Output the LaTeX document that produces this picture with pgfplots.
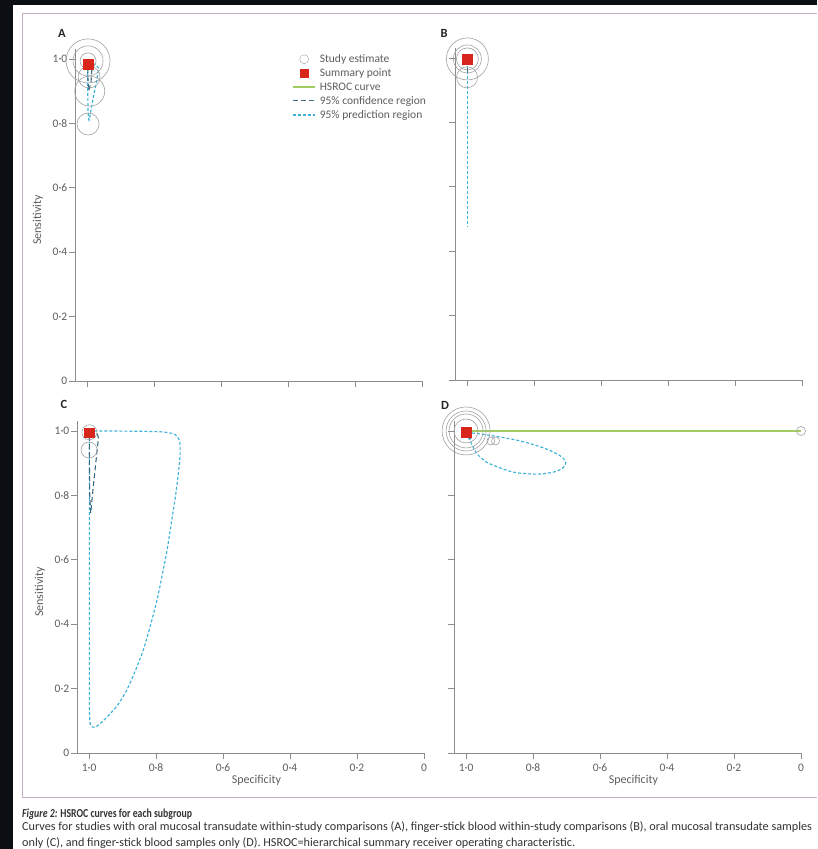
\documentclass[border=0pt]{standalone}
\usepackage{fontspec}
\setmainfont{Carlito}
\newfontfamily\capbold[FakeStretch=0.8]{Carlito}
\usepackage{pgfplots}
\pgfplotsset{compat=1.18}
\definecolor{axisgray}{HTML}{8C8C8C}
\definecolor{txtgray}{HTML}{5E5E5E}
\definecolor{circgray}{HTML}{A2A2A2}
\definecolor{sumred}{HTML}{D8261C}
\definecolor{predblue}{HTML}{3FB2DA}
\definecolor{confblue}{HTML}{3A6A82}
\definecolor{hsgreen}{HTML}{A2CC62}
\definecolor{framecol}{HTML}{C9AFC4}
\definecolor{bgc}{HTML}{0B0E13}
\pgfplotsset{
  hs/.style={
    scale only axis, width=347pt, height=331.7pt,
    x dir=reverse, xmin=0, xmax=1.036, ymin=0, ymax=1.03,
    axis x line*=bottom, axis y line*=left,
    axis line style={axisgray, line width=0.8pt},
    tick style={axisgray, line width=0.8pt},
    tick align=outside, major tick length=6pt,
    xtick={0,0.2,0.4,0.6,0.8,1}, ytick={0,0.2,0.4,0.6,0.8,1},
    clip=false,
    ticklabel style={font=\fontsize{11.5}{12}\selectfont, text=txtgray, inner sep=1.5pt},
    xticklabel style={yshift=-3pt},
    label style={font=\fontsize{12}{13}\selectfont, text=txtgray},
  },
  ylab/.style={yticklabels={0,0·2,0·4,0·6,0·8,1·0}, ylabel={Sensitivity},
    ylabel style={at={(axis description cs:-0.107,0.485)}, anchor=center}},
  noylab/.style={yticklabels={{},{},{},{},{},{}}},
  xlab/.style={xticklabels={0,0·2,0·4,0·6,0·8,1·0}, xlabel={Specificity},
    xlabel style={at={(ticklabel cs:0.517)}, anchor=near ticklabel, inner sep=0pt, yshift=-2pt}},
  noxlab/.style={xticklabels={{},{},{},{},{},{}}},
  pred/.style={predblue, line width=1.15pt, dash pattern=on 3pt off 2pt},
  conf/.style={confblue, line width=1.1pt, dash pattern=on 5pt off 3pt},
  study/.style={only marks, mark=o, circgray, mark options={line width=0.6pt}},
  summ/.style={only marks, mark=square*, sumred, mark size=4.8pt},
}
\begin{document}
\begin{tikzpicture}[x=1pt,y=1pt]
\fill[bgc] (0,0) rectangle (817,849);
\fill[white] (13,0) rectangle (817,844);
\draw[framecol, line width=0.8pt] (817,836) -- (22,836) -- (22,52) -- (817,52);

% ---------------- A ----------------
\begin{axis}[hs, ylab, noxlab, at={(75pt,468pt)}, anchor=south west,
  legend image code/.code={\draw[mark repeat=2,mark phase=2,#1] plot coordinates {(0pt,0pt) (11pt,0pt) (22pt,0pt)};},
  legend style={at={(axis description cs:0.626,0.988)}, anchor=north west, draw=none, fill=none,
    font=\fontsize{11.5}{12.5}\selectfont, text=txtgray, row sep=2.6pt, inner sep=0pt,
    nodes={inner sep=1pt}, /tikz/every odd column/.append style={column sep=3pt}},
  legend cell align=left]
\addplot[study, mark size=22pt, forget plot] coordinates {(0.997,0.994)};
\addplot[study, mark size=15pt, forget plot] coordinates {(0.997,0.994)};
\addplot[study, mark size=8pt, forget plot] coordinates {(0.997,0.994)};
\addplot[study, mark size=11pt, forget plot] coordinates {(0.994,0.944)};
\addplot[study, mark size=15pt, forget plot] coordinates {(0.992,0.900)};
\addplot[study, mark size=11pt, forget plot] coordinates {(0.997,0.798)};
\addplot[pred, smooth, tension=0.4, forget plot] coordinates {(0.998,0.990) (0.980,0.985) (0.966,0.972) (0.972,0.930) (0.985,0.860) (0.994,0.810) (0.997,0.840) (0.998,0.920) (0.998,0.990)};
\addplot[conf, forget plot] coordinates {(0.997,0.985) (0.985,0.978) (0.988,0.930) (0.995,0.900) (0.998,0.950) (0.997,0.985)};
\addplot[summ, forget plot] coordinates {(0.997,0.983)};
\addlegendimage{only marks, mark=o, circgray, mark size=4.5pt}
\addlegendimage{only marks, mark=square*, sumred, mark size=3.8pt}
\addlegendimage{hsgreen, line width=1.4pt}
\addlegendimage{conf}
\addlegendimage{pred}
\legend{Study estimate, Summary point, HSROC curve, 95\% confidence region, 95\% prediction region}
\end{axis}

% ---------------- B ----------------
\begin{axis}[hs, noylab, noxlab, at={(455pt,469pt)}, anchor=south west]
\addplot[study, mark size=21pt] coordinates {(0.999,0.997)};
\addplot[study, mark size=14pt] coordinates {(0.999,0.997)};
\addplot[study, mark size=11pt] coordinates {(0.999,0.997)};
\addplot[study, mark size=10.5pt] coordinates {(1.000,0.940)};
\addplot[pred, line width=1.4pt] coordinates {(0.9985,0.990) (0.9985,0.475)};
\addplot[conf] coordinates {(0.9985,0.995) (0.9985,0.950)};
\addplot[summ] coordinates {(0.999,0.997)};
\end{axis}

% ---------------- C ----------------
\begin{axis}[hs, ylab, xlab, at={(77pt,96pt)}, anchor=south west]
\addplot[study, mark size=7.5pt] coordinates {(0.999,0.996)};
\addplot[study, mark size=8pt] coordinates {(1.000,0.941)};
\addplot[pred, smooth, tension=0.35] coordinates {(0.999,1.000) (0.950,1.000) (0.850,0.999) (0.780,0.997) (0.745,0.990) (0.730,0.970) (0.728,0.930) (0.733,0.870) (0.743,0.790) (0.755,0.710) (0.767,0.630) (0.782,0.550) (0.797,0.475) (0.817,0.395) (0.838,0.320) (0.862,0.255) (0.887,0.196) (0.915,0.148) (0.946,0.112) (0.968,0.090) (0.982,0.080) (0.992,0.082) (0.997,0.092) (0.999,0.150) (0.999,0.400) (0.999,0.700) (0.999,0.950) (0.999,1.000)};
\addplot[conf] coordinates {(0.999,0.998) (0.985,0.996) (0.975,0.990) (0.972,0.978) (0.980,0.900) (0.990,0.800) (0.995,0.745) (0.998,0.800) (0.999,0.900) (0.999,0.998)};
\addplot[summ] coordinates {(1.000,0.994)};
\end{axis}

% ---------------- D ----------------
\begin{axis}[hs, noylab, xlab, at={(454pt,96pt)}, anchor=south west]
\addplot[study, mark size=24pt] coordinates {(1.000,1.000)};
\addplot[study, mark size=20pt] coordinates {(1.000,1.000)};
\addplot[study, mark size=17pt] coordinates {(1.000,1.000)};
\addplot[study, mark size=12pt] coordinates {(1.000,1.000)};
\addplot[study, mark size=4pt] coordinates {(0.926,0.969) (0.912,0.969)};
\addplot[study, mark size=4.5pt] coordinates {(0.000,1.000)};
\addplot[hsgreen, line width=1.3pt] coordinates {(0.999,0.9995) (0.000,0.9995)};
\addplot[pred, smooth, tension=0.5] coordinates {(0.997,0.992) (0.985,0.994) (0.920,0.985) (0.851,0.972) (0.800,0.958) (0.753,0.941) (0.715,0.920) (0.702,0.902) (0.712,0.884) (0.740,0.872) (0.783,0.866) (0.830,0.868) (0.863,0.873) (0.905,0.888) (0.940,0.904) (0.968,0.930) (0.982,0.957) (0.992,0.978) (0.997,0.992)};
\addplot[conf] coordinates {(0.997,0.995) (0.990,0.990) (0.985,0.975) (0.993,0.982) (0.997,0.995)};
\addplot[summ] coordinates {(0.999,0.997)};
\end{axis}

% panel letters
\node[font=\bfseries\fontsize{12.5}{12}\selectfont, text=black!85] at (62,816) {A};
\node[font=\bfseries\fontsize{12.5}{12}\selectfont, text=black!85] at (444,816) {B};
\node[font=\bfseries\fontsize{12.5}{12}\selectfont, text=black!85] at (64,445) {C};
\node[font=\bfseries\fontsize{12.5}{12}\selectfont, text=black!85] at (445,444) {D};

% caption
\node[anchor=north west, align=left, inner sep=0pt, text=black!80,
  font=\fontsize{12.2}{15.5}\selectfont] at (22,40)
  {{\capbold\textbf{\textit{Figure 2:} HSROC curves for each subgroup}}\\[-2.5pt]
   Curves for studies with oral mucosal transudate within-study comparisons (A), finger-stick blood within-study comparisons (B), oral mucosal transudate samples\\
   only (C), and finger-stick blood samples only (D). HSROC=hierarchical summary receiver operating characteristic.};

\pgfresetboundingbox
\useasboundingbox (0,0) rectangle (817,849);
\end{tikzpicture}
\end{document}
